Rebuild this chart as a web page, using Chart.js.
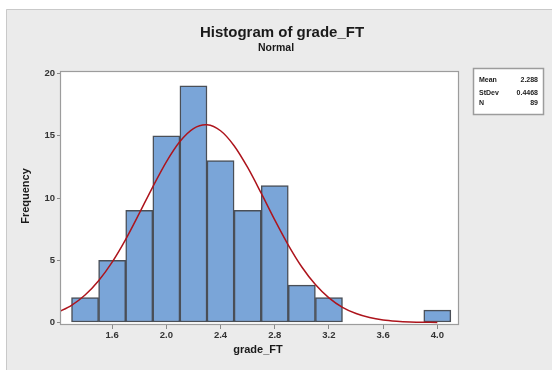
<!DOCTYPE html>
<html>
<head>
<meta charset="utf-8">
<script src="https://cdn.jsdelivr.net/npm/chart.js@4/dist/chart.umd.min.js"></script>
<style>
  html, body { margin: 0; padding: 0; background: #ffffff; }
  canvas { display: block; }
</style>
</head>
<body>
<canvas id="hist" width="552" height="370"></canvas>
<script>
// Histogram bins (bin midpoints) and their counts
const binMids = [1.4, 1.6, 1.8, 2.0, 2.2, 2.4, 2.6, 2.8, 3.0, 3.2, 3.4, 3.6, 3.8, 4.0];
const counts  = [2, 5, 9, 15, 19, 13, 9, 11, 3, 2, 0, 0, 0, 1];

// Fitted normal curve, sampled every 0.1
const curveX = [1.2, 1.3, 1.4, 1.5, 1.6, 1.7, 1.8, 1.9, 2.0, 2.1, 2.2, 2.3, 2.4, 2.5, 2.6,
                2.7, 2.8, 2.9, 3.0, 3.1, 3.2, 3.3, 3.4, 3.5, 3.6, 3.7, 3.8, 3.9, 4.0];
const curveY = [0.82, 1.38, 2.21, 3.36, 4.85, 6.68, 8.76, 10.90, 12.91, 14.54, 15.58, 15.88, 15.40, 14.20, 12.45,
                10.39, 8.24, 6.22, 4.46, 3.05, 1.98, 1.22, 0.72, 0.40, 0.21, 0.11, 0.05, 0.02, 0.01];

// Axis ticks
const xTicks = [1.6, 2.0, 2.4, 2.8, 3.2, 3.6, 4.0];
const yTicks = [0, 5, 10, 15, 20];

// Summary statistics box
const statLabels = ['Mean', 'StDev', 'N'];
const statValues = ['2.288', '0.4468', '89'];

const titleText = 'Histogram of grade_FT';
const subtitleText = 'Normal';
const xTitle = 'grade_FT';
const yTitle = 'Frequency';

const FONT = '"Liberation Sans", Arial, sans-serif';

const decor = {
  id: 'decor',
  beforeDraw(chart) {
    const { ctx, chartArea: a } = chart;
    ctx.save();
    ctx.fillStyle = '#ffffff';
    ctx.fillRect(0, 0, chart.width, chart.height);
    ctx.fillStyle = '#ebebeb';
    ctx.fillRect(6, 9, chart.width - 6, chart.height - 9);
    ctx.strokeStyle = '#c9c9c9';
    ctx.lineWidth = 1;
    ctx.beginPath();
    ctx.moveTo(6.5, chart.height);
    ctx.lineTo(6.5, 9.5);
    ctx.lineTo(chart.width, 9.5);
    ctx.stroke();
    ctx.fillStyle = '#ffffff';
    ctx.fillRect(a.left, a.top, a.right - a.left, a.bottom - a.top);
    ctx.restore();
  },
  afterDraw(chart) {
    const { ctx, chartArea: a } = chart;
    ctx.save();
    // plot frame
    ctx.strokeStyle = '#9c9c9c';
    ctx.lineWidth = 1.2;
    ctx.strokeRect(a.left + 0.5, a.top + 0.5, a.right - a.left - 1, a.bottom - a.top - 1);

    // titles
    ctx.fillStyle = '#1a1a1a';
    ctx.textAlign = 'center';
    ctx.textBaseline = 'middle';
    ctx.font = 'bold 15px ' + FONT;
    ctx.fillText(titleText, 282, 33);
    ctx.font = 'bold 10.5px ' + FONT;
    ctx.fillText(subtitleText, 276, 48);

    // axis titles
    ctx.font = 'bold 11px ' + FONT;
    ctx.fillText(xTitle, 258, 350);
    ctx.save();
    ctx.translate(26, 196);
    ctx.rotate(-Math.PI / 2);
    ctx.fillText(yTitle, 0, 0);
    ctx.restore();

    // statistics box
    ctx.fillStyle = '#ffffff';
    ctx.fillRect(473, 68, 71, 47);
    ctx.strokeStyle = '#9c9c9c';
    ctx.lineWidth = 1.5;
    ctx.strokeRect(473.5, 68.5, 70, 46);
    ctx.fillStyle = '#1a1a1a';
    ctx.font = 'bold 7px ' + FONT;
    const rows = [80, 93, 103];
    statLabels.forEach((lab, i) => {
      ctx.textAlign = 'left';
      ctx.fillText(lab, 479, rows[i]);
      ctx.textAlign = 'right';
      ctx.fillText(statValues[i], 538, rows[i]);
    });
    ctx.restore();
  }
};

new Chart(document.getElementById('hist'), {
  type: 'bar',
  data: {
    datasets: [
      {
        type: 'line',
        order: 0,
        data: curveX.map((x, i) => ({ x, y: curveY[i] })),
        borderColor: '#ad141c',
        borderWidth: 1.5,
        pointRadius: 0,
        tension: 0.3,
        fill: false
      },
      {
        type: 'bar',
        order: 1,
        data: binMids.map((x, i) => ({ x, y: counts[i] })),
        backgroundColor: '#7aa5d8',
        borderColor: '#4a4f57',
        borderWidth: 1.5,
        borderSkipped: false,
        barPercentage: 1,
        categoryPercentage: 1
      }
    ]
  },
  options: {
    responsive: false,
    animation: false,
    devicePixelRatio: 1,
    layout: { padding: { left: 6, right: 93, top: 71, bottom: 0 } },
    plugins: { legend: { display: false }, tooltip: { enabled: false } },
    scales: {
      x: {
        type: 'linear',
        offset: false,
        min: 1.215,
        max: 4.16,
        afterBuildTicks(scale) { scale.ticks = xTicks.map(v => ({ value: v })); },
        afterFit(scale) { scale.height = 45; },
        border: { display: false },
        grid: { offset: false, drawOnChartArea: false, tickLength: 4, color: '#8a8a8a' },
        ticks: {
          font: { family: FONT, size: 9.5, weight: 'bold' },
          color: '#333333',
          padding: 1,
          maxRotation: 0,
          callback: v => v.toFixed(1)
        }
      },
      y: {
        min: -0.2,
        max: 20.2,
        afterBuildTicks(scale) { scale.ticks = yTicks.map(v => ({ value: v })); },
        afterFit(scale) { scale.width = 54; },
        border: { display: false },
        grid: { drawOnChartArea: false, tickLength: 3, color: '#8a8a8a' },
        ticks: {
          font: { family: FONT, size: 9.5, weight: 'bold' },
          color: '#333333',
          padding: 2,
          callback: v => String(v)
        }
      }
    }
  },
  plugins: [decor]
});
</script>
</body>
</html>
